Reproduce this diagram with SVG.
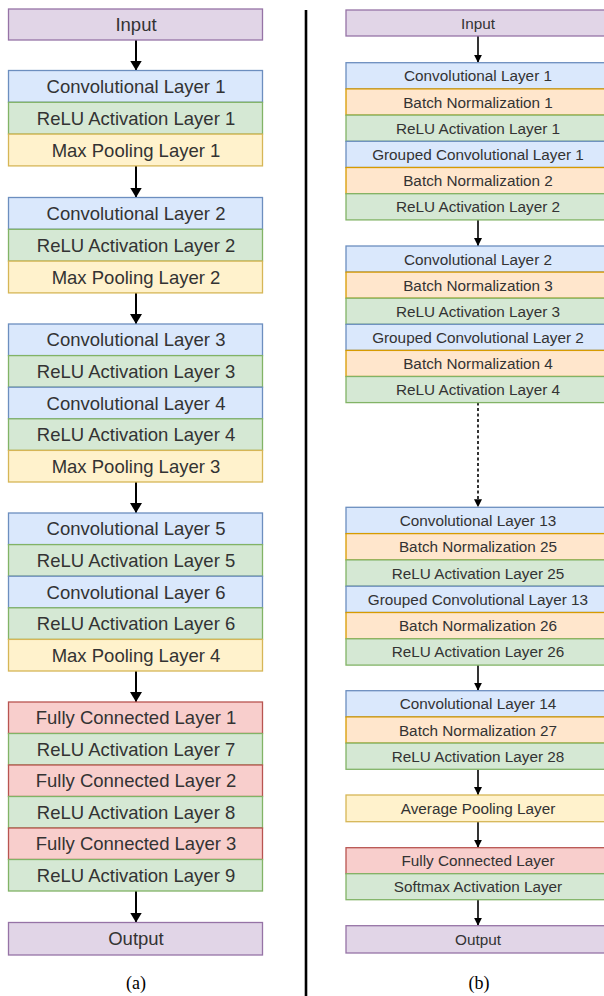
<svg xmlns="http://www.w3.org/2000/svg" width="604" height="996" viewBox="0 0 604 996">
<style>
.b{fill:#dae8fc;stroke:#6c8ebf;stroke-width:1.3}
.g{fill:#d5e8d4;stroke:#82b366;stroke-width:1.3}
.y{fill:#fff2cc;stroke:#d6b656;stroke-width:1.3}
.r{fill:#f8cecc;stroke:#b85450;stroke-width:1.3}
.p{fill:#e1d5e7;stroke:#9673a6;stroke-width:1.3}
.o{fill:#ffe6cc;stroke:#d79b00;stroke-width:1.3}
.tl{font-family:"Liberation Sans",Arial,sans-serif;font-size:18.5px;fill:#333;text-anchor:middle;dominant-baseline:central}
.tr{font-family:"Liberation Sans",Arial,sans-serif;font-size:15.3px;fill:#333;text-anchor:middle;dominant-baseline:central}
.cap{font-family:"Liberation Serif","Times New Roman",serif;font-size:18px;fill:#000;text-anchor:middle}
.al{stroke:#000;stroke-width:2;fill:none}
.ar{stroke:#000;stroke-width:1.6;fill:none}
</style>
<defs>
<marker id="hl" markerUnits="userSpaceOnUse" markerWidth="10" markerHeight="12" refX="10" refY="6" orient="auto"><path d="M0,0 L10,6 L0,12 z" fill="#000"/></marker>
<marker id="hr" markerUnits="userSpaceOnUse" markerWidth="8" markerHeight="8" refX="8" refY="4" orient="auto"><path d="M0,0 L8,4 L0,8 z" fill="#000"/></marker>
</defs>

<line x1="306" y1="10" x2="306" y2="996" stroke="#000" stroke-width="2.6"/>

<g id="connectors">
<line class="al" x1="136" y1="40" x2="136" y2="70.5" marker-end="url(#hl)"/>
<line class="al" x1="136" y1="166" x2="136" y2="197.5" marker-end="url(#hl)"/>
<line class="al" x1="136" y1="293" x2="136" y2="324" marker-end="url(#hl)"/>
<line class="al" x1="136" y1="482" x2="136" y2="513" marker-end="url(#hl)"/>
<line class="al" x1="136" y1="671" x2="136" y2="702" marker-end="url(#hl)"/>
<line class="al" x1="136" y1="891" x2="136" y2="922.5" marker-end="url(#hl)"/>
<line class="ar" x1="478" y1="36" x2="478" y2="62.7" marker-end="url(#hr)"/>
<line class="ar" x1="478" y1="220" x2="478" y2="246" marker-end="url(#hr)"/>
<line class="ar" x1="478" y1="402.6" x2="478" y2="507.3" stroke-dasharray="3,2.5" marker-end="url(#hr)"/>
<line class="ar" x1="478" y1="665.1" x2="478" y2="690.7" marker-end="url(#hr)"/>
<line class="ar" x1="478" y1="769.3" x2="478" y2="795" marker-end="url(#hr)"/>
<line class="ar" x1="478" y1="821.7" x2="478" y2="847.7" marker-end="url(#hr)"/>
<line class="ar" x1="478" y1="899.7" x2="478" y2="925.7" marker-end="url(#hr)"/>
</g>

<!-- Left column (a) -->
<g id="a-input"><rect class="p" x="8.5" y="9" width="254" height="31"/><text class="tl" x="136" y="24.5">Input</text></g>

<g id="a-conv1"><rect class="b" x="8.5" y="70.5" width="254" height="31.8"/><text class="tl" x="136" y="86.4">Convolutional Layer 1</text></g>
<g id="a-relu1"><rect class="g" x="8.5" y="102.3" width="254" height="31.8"/><text class="tl" x="136" y="118.2">ReLU Activation Layer 1</text></g>
<g id="a-pool1"><rect class="y" x="8.5" y="134.1" width="254" height="31.8"/><text class="tl" x="136" y="150">Max Pooling Layer 1</text></g>

<g id="a-conv2"><rect class="b" x="8.5" y="197.5" width="254" height="31.8"/><text class="tl" x="136" y="213.4">Convolutional Layer 2</text></g>
<g id="a-relu2"><rect class="g" x="8.5" y="229.3" width="254" height="31.8"/><text class="tl" x="136" y="245.2">ReLU Activation Layer 2</text></g>
<g id="a-pool2"><rect class="y" x="8.5" y="261.1" width="254" height="31.8"/><text class="tl" x="136" y="277">Max Pooling Layer 2</text></g>

<g id="a-conv3"><rect class="b" x="8.5" y="324" width="254" height="31.6"/><text class="tl" x="136" y="339.8">Convolutional Layer 3</text></g>
<g id="a-relu3"><rect class="g" x="8.5" y="355.6" width="254" height="31.6"/><text class="tl" x="136" y="371.4">ReLU Activation Layer 3</text></g>
<g id="a-conv4"><rect class="b" x="8.5" y="387.2" width="254" height="31.6"/><text class="tl" x="136" y="403">Convolutional Layer 4</text></g>
<g id="a-relu4"><rect class="g" x="8.5" y="418.8" width="254" height="31.6"/><text class="tl" x="136" y="434.6">ReLU Activation Layer 4</text></g>
<g id="a-pool3"><rect class="y" x="8.5" y="450.4" width="254" height="31.6"/><text class="tl" x="136" y="466.2">Max Pooling Layer 3</text></g>

<g id="a-conv5"><rect class="b" x="8.5" y="513" width="254" height="31.6"/><text class="tl" x="136" y="528.8">Convolutional Layer 5</text></g>
<g id="a-relu5"><rect class="g" x="8.5" y="544.6" width="254" height="31.6"/><text class="tl" x="136" y="560.4">ReLU Activation Layer 5</text></g>
<g id="a-conv6"><rect class="b" x="8.5" y="576.2" width="254" height="31.6"/><text class="tl" x="136" y="592">Convolutional Layer 6</text></g>
<g id="a-relu6"><rect class="g" x="8.5" y="607.8" width="254" height="31.6"/><text class="tl" x="136" y="623.6">ReLU Activation Layer 6</text></g>
<g id="a-pool4"><rect class="y" x="8.5" y="639.4" width="254" height="31.6"/><text class="tl" x="136" y="655.2">Max Pooling Layer 4</text></g>

<g id="a-fc1"><rect class="r" x="8.5" y="702" width="254" height="31.5"/><text class="tl" x="136" y="717.8">Fully Connected Layer 1</text></g>
<g id="a-relu7"><rect class="g" x="8.5" y="733.5" width="254" height="31.5"/><text class="tl" x="136" y="749.3">ReLU Activation Layer 7</text></g>
<g id="a-fc2"><rect class="r" x="8.5" y="765" width="254" height="31.5"/><text class="tl" x="136" y="780.8">Fully Connected Layer 2</text></g>
<g id="a-relu8"><rect class="g" x="8.5" y="796.5" width="254" height="31.5"/><text class="tl" x="136" y="812.3">ReLU Activation Layer 8</text></g>
<g id="a-fc3"><rect class="r" x="8.5" y="828" width="254" height="31.5"/><text class="tl" x="136" y="843.8">Fully Connected Layer 3</text></g>
<g id="a-relu9"><rect class="g" x="8.5" y="859.5" width="254" height="31.5"/><text class="tl" x="136" y="875.3">ReLU Activation Layer 9</text></g>

<g id="a-output"><rect class="p" x="8.5" y="922.5" width="254" height="32.5"/><text class="tl" x="136" y="938.8">Output</text></g>

<text class="cap" x="136" y="989">(a)</text>

<!-- Right column (b) -->
<g id="b-input"><rect class="p" x="346" y="10" width="264" height="26"/><text class="tr" x="478" y="23">Input</text></g>

<g id="b-conv1"><rect class="b" x="346" y="62.7" width="264" height="26.2"/><text class="tr" x="478" y="75.8">Convolutional Layer 1</text></g>
<g id="b-bn1"><rect class="o" x="346" y="88.9" width="264" height="26.2"/><text class="tr" x="478" y="102">Batch Normalization 1</text></g>
<g id="b-relu1"><rect class="g" x="346" y="115.1" width="264" height="26.2"/><text class="tr" x="478" y="128.2">ReLU Activation Layer 1</text></g>
<g id="b-gconv1"><rect class="b" x="346" y="141.3" width="264" height="26.2"/><text class="tr" x="478" y="154.4">Grouped Convolutional Layer 1</text></g>
<g id="b-bn2"><rect class="o" x="346" y="167.5" width="264" height="26.2"/><text class="tr" x="478" y="180.6">Batch Normalization 2</text></g>
<g id="b-relu2"><rect class="g" x="346" y="193.7" width="264" height="26.2"/><text class="tr" x="478" y="206.8">ReLU Activation Layer 2</text></g>

<g id="b-conv2"><rect class="b" x="346" y="246" width="264" height="26.1"/><text class="tr" x="478" y="259">Convolutional Layer 2</text></g>
<g id="b-bn3"><rect class="o" x="346" y="272.1" width="264" height="26.1"/><text class="tr" x="478" y="285.1">Batch Normalization 3</text></g>
<g id="b-relu3"><rect class="g" x="346" y="298.2" width="264" height="26.1"/><text class="tr" x="478" y="311.2">ReLU Activation Layer 3</text></g>
<g id="b-gconv2"><rect class="b" x="346" y="324.3" width="264" height="26.1"/><text class="tr" x="478" y="337.3">Grouped Convolutional Layer 2</text></g>
<g id="b-bn4"><rect class="o" x="346" y="350.4" width="264" height="26.1"/><text class="tr" x="478" y="363.4">Batch Normalization 4</text></g>
<g id="b-relu4"><rect class="g" x="346" y="376.5" width="264" height="26.1"/><text class="tr" x="478" y="389.5">ReLU Activation Layer 4</text></g>

<g id="b-conv13"><rect class="b" x="346" y="507.3" width="264" height="26.3"/><text class="tr" x="478" y="520.4">Convolutional Layer 13</text></g>
<g id="b-bn25"><rect class="o" x="346" y="533.6" width="264" height="26.3"/><text class="tr" x="478" y="546.7">Batch Normalization 25</text></g>
<g id="b-relu25"><rect class="g" x="346" y="559.9" width="264" height="26.3"/><text class="tr" x="478" y="573">ReLU Activation Layer 25</text></g>
<g id="b-gconv13"><rect class="b" x="346" y="586.2" width="264" height="26.3"/><text class="tr" x="478" y="599.3">Grouped Convolutional Layer 13</text></g>
<g id="b-bn26"><rect class="o" x="346" y="612.5" width="264" height="26.3"/><text class="tr" x="478" y="625.6">Batch Normalization 26</text></g>
<g id="b-relu26"><rect class="g" x="346" y="638.8" width="264" height="26.3"/><text class="tr" x="478" y="651.9">ReLU Activation Layer 26</text></g>

<g id="b-conv14"><rect class="b" x="346" y="690.7" width="264" height="26.2"/><text class="tr" x="478" y="703.8">Convolutional Layer 14</text></g>
<g id="b-bn27"><rect class="o" x="346" y="716.9" width="264" height="26.2"/><text class="tr" x="478" y="730">Batch Normalization 27</text></g>
<g id="b-relu28"><rect class="g" x="346" y="743.1" width="264" height="26.2"/><text class="tr" x="478" y="756.2">ReLU Activation Layer 28</text></g>

<g id="b-avgpool"><rect class="y" x="346" y="795" width="264" height="26.7"/><text class="tr" x="478" y="808.4">Average Pooling Layer</text></g>

<g id="b-fc"><rect class="r" x="346" y="847.7" width="264" height="26"/><text class="tr" x="478" y="860.7">Fully Connected Layer</text></g>
<g id="b-softmax"><rect class="g" x="346" y="873.7" width="264" height="26"/><text class="tr" x="478" y="886.7">Softmax Activation Layer</text></g>

<g id="b-output"><rect class="p" x="346" y="925.7" width="264" height="27.3"/><text class="tr" x="478" y="939.4">Output</text></g>

<text class="cap" x="479" y="989">(b)</text>
</svg>
